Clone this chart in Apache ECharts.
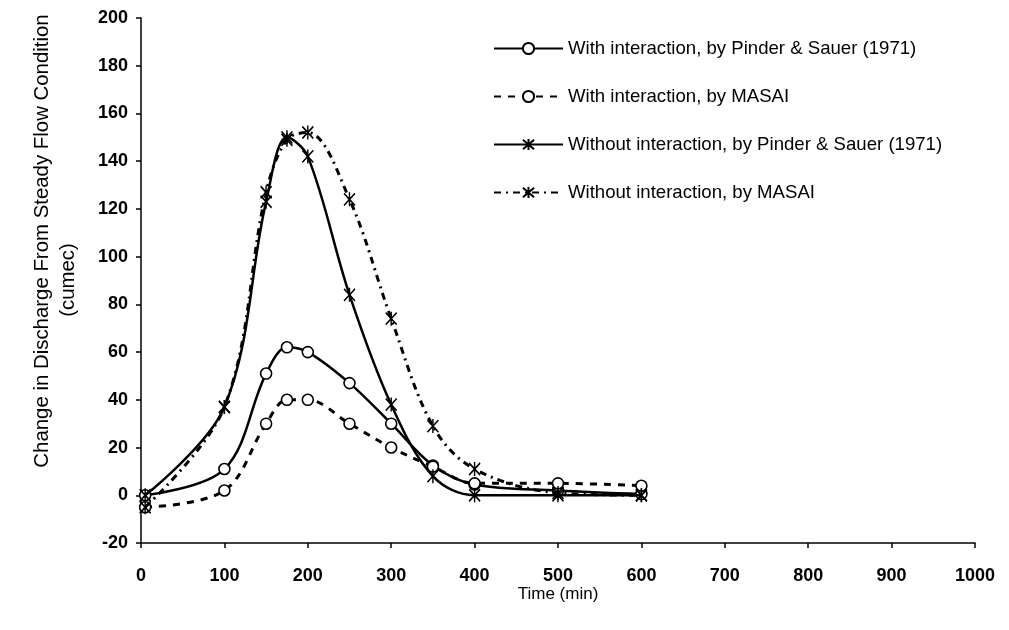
<!DOCTYPE html>
<html>
<head>
<meta charset="utf-8">
<script src="https://cdn.jsdelivr.net/npm/echarts@6/dist/echarts.min.js"></script>
<style>html,body{margin:0;padding:0;background:#fff}#c{width:1009px;height:630px}</style>
</head>
<body>
<div id="c"></div>
<script>
var times = [5, 100, 150, 175, 200, 250, 300, 350, 400, 500, 600];
var withPinder = [0, 11, 51, 62, 60, 47, 30, 12.5, 4.5, 2, 0.5];
var withMasai = [-5, 2, 30, 40, 40, 30, 20, 12, 5, 5, 4];
var withoutPinder = [0, 37, 123, 150, 142, 84, 38, 8, 0, 0, 0];
var withoutMasai = [-5, 37, 127, 149, 152, 124, 74, 29, 11, 1, 0];
var seriesNames = [
  'With interaction, by Pinder & Sauer (1971)',
  'With interaction, by MASAI',
  'Without interaction, by Pinder & Sauer (1971)',
  'Without interaction, by MASAI'
];
var yTicks = [-20, 0, 20, 40, 60, 80, 100, 120, 140, 160, 180, 200];
var xTicks = [0, 100, 200, 300, 400, 500, 600, 700, 800, 900, 1000];
var yTitle1 = 'Change in Discharge From Steady Flow Condition';
var yTitle2 = '(cumec)';

function pairs(ys) { return times.map(function (t, i) { return [t, ys[i]]; }); }
var starPath = 'path://M0,1 L10,13 M10,1 L0,13 M5,0 L5,14';
var FONT = 'Liberation Sans, Arial, sans-serif';

function mk(name, ys, dash, sym) {
  var isStar = sym === 'star';
  return {
    name: name, type: 'line', data: pairs(ys), smooth: 0.35,
    symbol: isStar ? starPath : 'circle',
    symbolSize: isStar ? [11, 14] : 11,
    showAllSymbol: true,
    lineStyle: { color: '#000', width: dash ? 3 : 2.5, type: dash || 'solid' },
    itemStyle: isStar ? { color: '#000', borderColor: '#000', borderWidth: 1.6 }
                      : { color: '#fff', borderColor: '#000', borderWidth: 1.6 },
    emphasis: { disabled: true },
    z: isStar ? 3 : 2
  };
}

var chart = echarts.init(document.getElementById('c'), null, { renderer: 'canvas' });
chart.setOption({
  animation: false,
  backgroundColor: '#fff',
  grid: { left: 141, right: 34, top: 18, bottom: 87, containLabel: false },
  legend: {
    orient: 'vertical', left: 488, top: 34,
    itemWidth: 69, itemHeight: 14, itemGap: 29,
    textStyle: { fontFamily: FONT, fontSize: 18.6, color: '#000' },
    data: seriesNames
  },
  graphic: [
    { type: 'text', x: 42, y: 241, rotation: Math.PI / 2,
      style: { text: yTitle1, font: '20.4px ' + FONT, fill: '#000', textAlign: 'center', textVerticalAlign: 'middle' } },
    { type: 'text', x: 68, y: 280, rotation: Math.PI / 2,
      style: { text: yTitle2, font: '20.4px ' + FONT, fill: '#000', textAlign: 'center', textVerticalAlign: 'middle' } }
  ],
  xAxis: {
    type: 'value', min: 0, max: 1000, interval: 100,
    name: 'Time (min)', nameLocation: 'middle', nameGap: 43, nameMoveOverlap: false,
    nameTextStyle: { fontFamily: FONT, fontSize: 17, color: '#000' },
    axisLine: { onZero: false, lineStyle: { color: '#000', width: 1.5 } },
    axisTick: { show: true, length: 5, inside: false, lineStyle: { color: '#000', width: 1.5 } },
    axisLabel: { fontFamily: FONT, fontWeight: 'bold', fontSize: 18, color: '#000', margin: 24,
      formatter: function (v) { return xTicks.indexOf(v) >= 0 ? String(v) : ''; } },
    splitLine: { show: false }
  },
  yAxis: {
    type: 'value', min: -20, max: 200, interval: 20,
    axisLine: { show: true, onZero: false, lineStyle: { color: '#000', width: 1.5 } },
    axisTick: { show: true, length: 5, inside: false, lineStyle: { color: '#000', width: 1.5 } },
    axisLabel: { fontFamily: FONT, fontWeight: 'bold', fontSize: 18, color: '#000', margin: 13,
      formatter: function (v) { return yTicks.indexOf(v) >= 0 ? String(v) : ''; } },
    splitLine: { show: false }
  },
  series: [
    mk(seriesNames[0], withPinder, null, 'circle'),
    mk(seriesNames[1], withMasai, [7, 7], 'circle'),
    mk(seriesNames[2], withoutPinder, null, 'star'),
    mk(seriesNames[3], withoutMasai, [7, 5, 2, 5], 'star')
  ]
});
</script>
</body>
</html>
